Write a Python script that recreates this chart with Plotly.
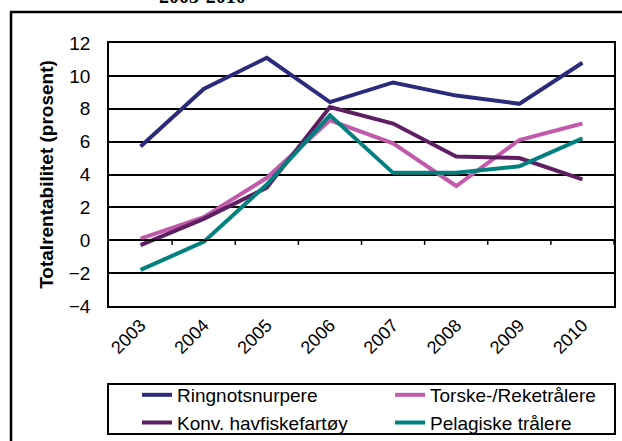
import plotly.graph_objects as go

years = ["2003", "2004", "2005", "2006", "2007", "2008", "2009", "2010"]
ringnot = [5.7, 9.2, 11.1, 8.4, 9.6, 8.8, 8.3, 10.8]
torske = [0.1, 1.4, 3.8, 7.3, 5.9, 3.3, 6.1, 7.1]
konv = [-0.3, 1.3, 3.2, 8.1, 7.1, 5.1, 5.0, 3.7]
pelagiske = [-1.8, -0.1, 3.4, 7.6, 4.1, 4.1, 4.5, 6.2]

series = [
    ("Ringnotsnurpere", ringnot, "#2B2B7C"),
    ("Torske-/Reketrålere", torske, "#C25AAB"),
    ("Konv. havfiskefartøy", konv, "#5E1F62"),
    ("Pelagiske trålere", pelagiske, "#00807E"),
]

font_family = "Liberation Sans, Arial, sans-serif"

fig = go.Figure()
for name, vals, col in series:
    fig.add_trace(go.Scatter(x=years, y=vals, mode="lines", name=name,
                             line=dict(color=col, width=4)))

# tick marks on the zero line between categories
shapes = []
for i in range(len(years)):
    shapes.append(dict(type="line", xref="x", yref="y", x0=i + 0.5, x1=i + 0.5,
                       y0=0, y1=-0.28, line=dict(color="black", width=1.5)))
# outer frame
shapes.append(dict(type="rect", xref="paper", yref="paper",
                   x0=-0.194, x1=1.03, y0=-0.55, y1=1.118,
                   line=dict(color="black", width=2.5), layer="below"))
# zero line emphasised
shapes.append(dict(type="line", xref="paper", yref="y", x0=0, x1=1, y0=0, y1=0,
                   line=dict(color="black", width=1.5)))
# legend frame
shapes.append(dict(type="rect", xref="paper", yref="paper",
                   x0=-0.002, x1=1.002, y0=-0.487, y1=-0.2966,
                   line=dict(color="black", width=2), layer="below"))

fig.update_layout(
    width=622, height=441,
    margin=dict(l=109, r=8, t=43, b=135, autoexpand=False),
    paper_bgcolor="white", plot_bgcolor="white",
    font=dict(family=font_family, size=19, color="black"),
    showlegend=True,
    legend=dict(orientation="h", x=0.0555, xanchor="left", y=-0.266, yanchor="top",
                bgcolor="rgba(0,0,0,0)", borderwidth=0, entrywidth=208,
                entrywidthmode="pixels", font=dict(size=19, family=font_family),
                tracegroupgap=0),
    shapes=shapes,
    annotations=[dict(text="<b>2003-2010</b>", xref="paper", yref="paper",
                      x=0.186, y=1.13, xanchor="center", yanchor="bottom",
                      showarrow=False,
                      font=dict(family="Liberation Serif, Times New Roman, serif",
                                size=20, color="black"))],
)

fig.update_xaxes(
    type="category", range=[-0.5, 7.5], tickangle=-45, ticks="", showgrid=False,
    showline=True, linecolor="black", linewidth=1.5, mirror=True,
    tickfont=dict(size=18, family=font_family),
)
fig.update_yaxes(
    range=[-4, 12], dtick=2, tick0=-4, showgrid=True, gridcolor="black",
    gridwidth=1.5, zeroline=False,
    showline=True, linecolor="black", linewidth=1.5, mirror=True,
    tickfont=dict(size=19, family=font_family), ticklabelstandoff=13,
    title=dict(text="<b>Totalrentabilitet (prosent)</b>", standoff=10,
               font=dict(size=19, family=font_family)),
)

fig.write_html("out.html", config={"displayModeBar": False},
               post_script="document.body.style.margin='0';document.body.style.overflow='hidden';")
